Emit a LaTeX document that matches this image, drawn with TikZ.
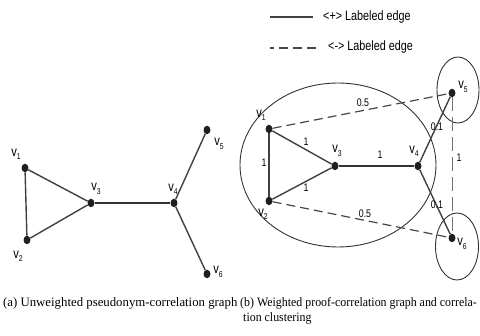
\documentclass[tikz,border=0pt]{standalone}
\usepackage{graphicx}
\usepackage{fontspec}
\usetikzlibrary{shapes.geometric}
\setmainfont{Liberation Serif}
\newfontfamily\labfont{Liberation Sans}
\newcommand\sqz[1]{\scalebox{0.8}[1]{#1}}
\newcommand\vlab[1]{\sqz{v\raisebox{-0.45ex}{\fontsize{8.5}{9}\selectfont #1}}}
\begin{document}
\begin{tikzpicture}[x=1pt,y=-1pt,
  dot/.style={ellipse,fill=black!88,inner sep=0pt,minimum width=7pt,minimum height=8.5pt},
  edge/.style={draw=black!75,line width=1.4pt},
  thick edge/.style={draw=black!80,line width=1.9pt},
  dedge/.style={draw=black!72,line width=1.2pt,dash pattern=on 9pt off 5pt},
  vdedge/.style={draw=black!55,line width=0.9pt,dash pattern=on 14pt off 6pt},
  ring/.style={draw=black!80,line width=0.9pt},
  vl/.style={font=\labfont\fontsize{14}{15}\selectfont,inner sep=0pt},
  wl/.style={font=\labfont\fontsize{11}{12}\selectfont,inner sep=0pt},
  lg/.style={font=\labfont\fontsize{13.5}{14}\selectfont,inner sep=0pt,anchor=west},
  captext/.style={font=\fontsize{12.8}{15}\selectfont,inner sep=0pt,anchor=base west}]
\useasboundingbox (0,0) rectangle (480,336);
% ---------- (a) ----------
\node[dot] (a1) at (25,168) {};
\node[dot] (a2) at (27,240) {};
\node[dot] (a3) at (91,203) {};
\node[dot] (a4) at (174,203) {};
\node[dot] (a5) at (207,130) {};
\node[dot] (a6) at (207,274) {};
\draw[edge] (a1) -- (a2);
\draw[edge] (a1) -- (a3);
\draw[edge] (a2) -- (a3);
\draw[thick edge] (a3) -- (a4);
\draw[edge] (a4) -- (a5);
\draw[edge] (a4) -- (a6);
\node[vl] (la1) at (16,154) {\vlab{1}};
\node[vl] (la2) at (18,256) {\vlab{2}};
\node[vl] (la3) at (96,189) {\vlab{3}};
\node[vl] (la4) at (173,189) {\vlab{4}};
\node[vl] (la5) at (219,144) {\vlab{5}};
\node[vl] (la6) at (218,272) {\vlab{6}};
% ---------- legend ----------
\coordinate (s1) at (270,17);
\coordinate (s2) at (313,17);
\coordinate (d1) at (270,48);
\coordinate (d2) at (318,48);
\draw[edge] (s1) -- (s2);
\draw[dedge,dash pattern=on 4pt off 5pt on 9pt off 5pt on 9pt off 5pt on 9pt] (d1) -- (d2);
\node[lg] (lgs) at (323,17) {\sqz{<+> Labeled edge}};
\node[lg] (lgd) at (328,47) {\sqz{<-> Labeled edge}};
% ---------- (b) ----------
\node[ring,ellipse,draw,minimum width=196pt,minimum height=164pt,inner sep=0pt] (E) at (338,165) {};
\node[ring,ellipse,draw,minimum width=42pt,minimum height=66pt,inner sep=0pt] (C5) at (458,90) {};
\node[ring,ellipse,draw,minimum width=43pt,minimum height=67pt,inner sep=0pt] (C6) at (457,246.5) {};
\node[dot] (b1) at (269,129) {};
\node[dot] (b2) at (269,201) {};
\node[dot] (b3) at (335,166) {};
\node[dot] (b4) at (418,166) {};
\node[dot] (b5) at (452,93) {};
\node[dot] (b6) at (452,238) {};
\draw[edge] (b1) -- (b2);
\draw[edge] (b1) -- (b3);
\draw[edge] (b2) -- (b3);
\draw[thick edge] (b3) -- (b4);
\draw[edge] (b4) -- (b5);
\draw[edge] (b4) -- (b6);
\draw[dedge] (b1) -- (b5);
\draw[dedge] (b2) -- (b6);
\draw[vdedge] (b5) -- (b6);
\node[vl] (lb1) at (261,115) {\vlab{1}};
\node[vl] (lb2) at (263,214) {\vlab{2}};
\node[vl] (lb3) at (337,151) {\vlab{3}};
\node[vl] (lb4) at (414,151) {\vlab{4}};
\node[vl] (lb5) at (463,87) {\vlab{5}};
\node[vl] (lb6) at (462,244) {\vlab{6}};
\node[wl] (w12) at (264,163) {\sqz{1}};
\node[wl] (w13) at (306,142) {\sqz{1}};
\node[wl] (w23) at (306,188) {\sqz{1}};
\node[wl] (w34) at (380,155) {\sqz{1}};
\node[wl] (w15) at (363,103) {\sqz{0.5}};
\node[wl] (w26) at (365,214) {\sqz{0.5}};
\node[wl] (w45) at (437,127) {\sqz{0.1}};
\node[wl] (w46) at (437,205) {\sqz{0.1}};
\node[wl] (w56) at (459,158) {\sqz{1}};
% ---------- captions ----------
\node[captext] (ca) at (3,307) {(a) Unweighted pseudonym-correlation graph};
\node[captext] (cb) at (240,307) {\scalebox{0.93}[1]{(b) Weighted proof-correlation graph and correla-}};
\node[captext] (cb2) at (243,322) {\scalebox{0.93}[1]{tion clustering}};
\end{tikzpicture}
\end{document}
